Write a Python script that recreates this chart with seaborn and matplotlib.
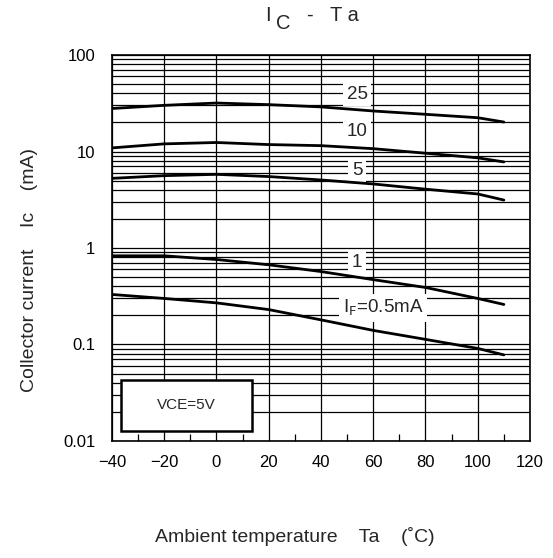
import numpy as np
import pandas as pd
import matplotlib
matplotlib.use("Agg")
import matplotlib.pyplot as plt
import seaborn as sns
from matplotlib.patches import Rectangle
from matplotlib.ticker import FixedLocator, FixedFormatter, LogLocator, NullFormatter

sns.set_theme(style="white")
plt.rcParams["font.family"] = ["Liberation Sans", "DejaVu Sans"]

# Values
temps = [-40, -20, 0, 20, 40, 60, 80, 100, 110]
ic_25 = [27.9, 30.1, 31.8, 30.6, 29.0, 26.3, 24.3, 22.4, 20.2]
ic_10 = [10.9, 12.0, 12.4, 11.8, 11.5, 10.7, 9.6, 8.6, 7.8]
ic_5 = [5.27, 5.62, 5.8, 5.5, 5.07, 4.61, 4.07, 3.63, 3.14]
ic_1 = [0.83, 0.83, 0.76, 0.67, 0.57, 0.47, 0.39, 0.30, 0.26]
ic_05 = [0.33, 0.30, 0.27, 0.23, 0.18, 0.14, 0.113, 0.091, 0.078]
curve_labels = ["25", "10", "5", "1", "I$_{\\rm F}$=0.5mA"]
x_ticks = [-40, -20, 0, 20, 40, 60, 80, 100, 120]
x_tick_labels = ["\u221240", "\u221220", "0", "20", "40", "60", "80", "100", "120"]
y_ticks = [0.01, 0.1, 1, 10, 100]
y_tick_labels = ["0.01", "0.1", "1", "10", "100"]

series = [ic_25, ic_10, ic_5, ic_1, ic_05]
frames = []
for lab, vals in zip(curve_labels, series):
    frames.append(pd.DataFrame({"Ta": temps, "Ic": vals, "IF": lab}))
df = pd.concat(frames, ignore_index=True)

fig = plt.figure(figsize=(5.53, 5.58), dpi=100)
ax = fig.add_axes([0.2025, 0.2097, 0.7559, 0.6917])

sns.lineplot(data=df, x="Ta", y="Ic", hue="IF", units="IF", estimator=None,
             palette=["black"] * 5, linewidth=2.0, legend=False, ax=ax, zorder=5)

ax.set_yscale("log")
ax.set_xlim(-40, 120)
ax.set_ylim(0.01, 100)

ax.xaxis.set_major_locator(FixedLocator(x_ticks))
ax.xaxis.set_major_formatter(FixedFormatter(x_tick_labels))
ax.xaxis.set_minor_locator(FixedLocator(np.arange(-30, 120, 20)))
ax.yaxis.set_major_locator(FixedLocator(y_ticks))
ax.yaxis.set_major_formatter(FixedFormatter(y_tick_labels))
ax.yaxis.set_minor_locator(LogLocator(base=10, subs=np.arange(2, 10)))
ax.yaxis.set_minor_formatter(NullFormatter())

ax.grid(True, which="major", color="black", linewidth=0.9, zorder=0)
ax.grid(True, which="minor", axis="y", color="black", linewidth=0.9, zorder=0)
ax.tick_params(axis="both", which="major", direction="in", length=5, width=0.9,
               color="black", labelsize=12, labelcolor="black")
ax.tick_params(axis="x", which="major", pad=10)
ax.tick_params(axis="y", which="major", pad=12)
ax.tick_params(axis="x", which="minor", direction="in", length=5, width=0.9,
               color="black", bottom=True)
ax.tick_params(axis="y", which="minor", length=0)
for s in ax.spines.values():
    s.set_color("black")
    s.set_linewidth(1.2)

# curve labels with white backing
label_x = [53.8, 53.8, 53.8, 53.8, 63.7]
label_y = [39.4, 16.3, 6.43, 0.716, 0.239]
for lab, lx, ly in zip(curve_labels, label_x, label_y):
    ax.text(lx, ly, lab, ha="center", va="center", fontsize=13.5, zorder=4,
            bbox=dict(facecolor="white", edgecolor="none", pad=2.5))

# VCE box
ax.add_patch(Rectangle((-36.6, 0.0127), 50.2, 0.0429 - 0.0127, facecolor="white",
                       edgecolor="black", linewidth=1.8, zorder=6))
ax.text(-11.5, 0.0234, "VCE=5V", ha="center", va="center", fontsize=11, zorder=7)

ax.set_xlabel("")
ax.set_ylabel("")

# title: I with a full-size lowered C
fig.text(268 / 553, 1 - 21 / 558, "I", ha="center", va="baseline", fontsize=14.5)
fig.text(283 / 553, 1 - 29 / 558, "C", ha="center", va="baseline", fontsize=14.5)
fig.text(309 / 553, 1 - 21 / 558, "-", ha="center", va="baseline", fontsize=14.5)
fig.text(344 / 553, 1 - 21 / 558, "T a", ha="center", va="baseline", fontsize=14.5)

fig.text(30 / 553, 1 - 270 / 558, "Collector current    Ic    (mA)", rotation=90,
         ha="center", va="center", fontsize=14)
fig.text(295 / 553, 1 - 537 / 558, "Ambient temperature    Ta    (\u02daC)",
         ha="center", va="center", fontsize=14)

fig.savefig("out.png", dpi=100, facecolor="white")
